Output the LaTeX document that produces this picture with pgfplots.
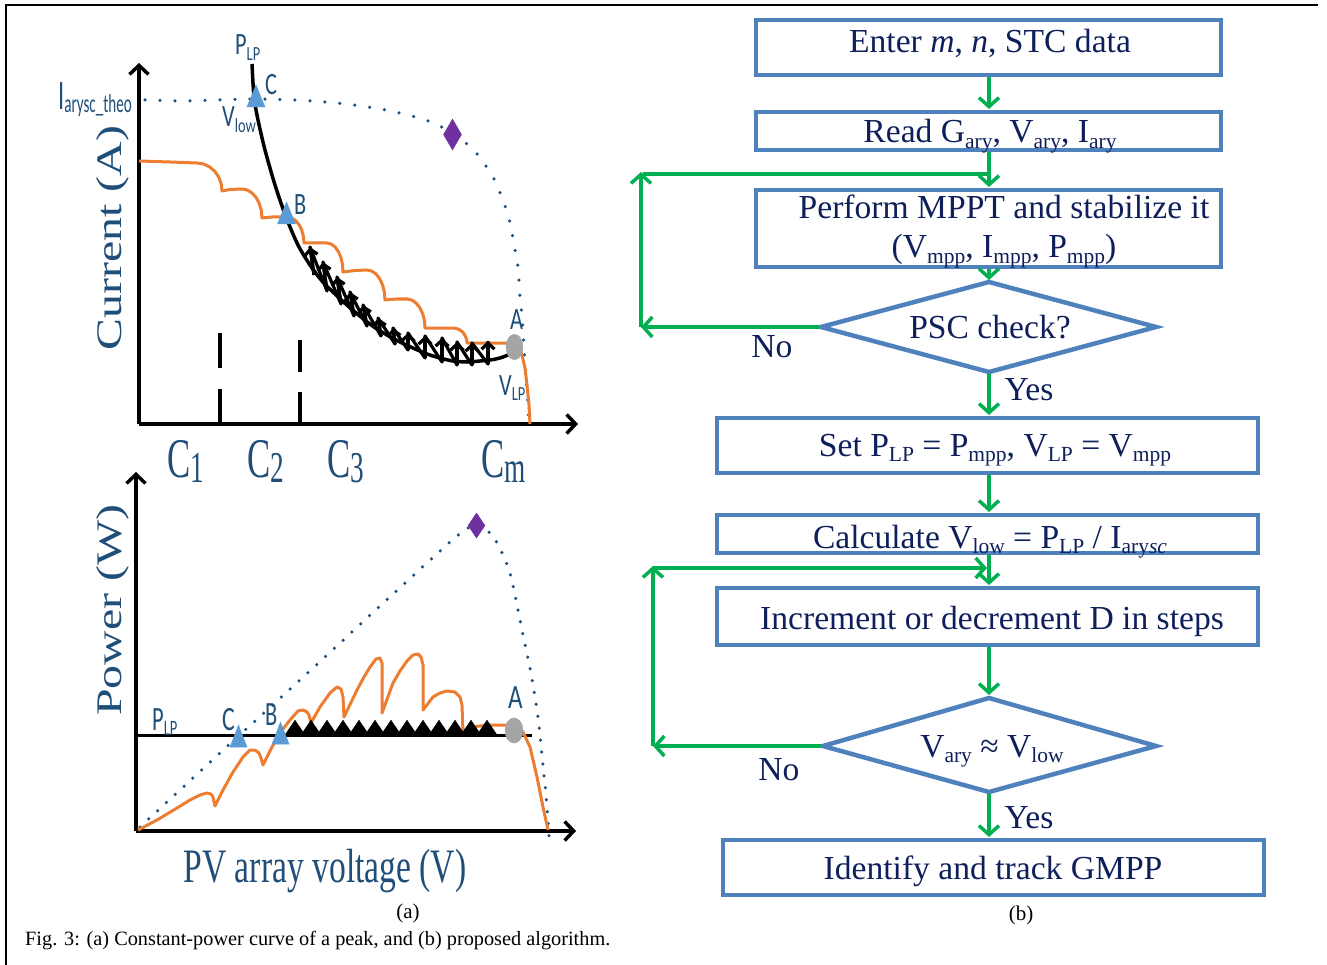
\documentclass[border=0pt]{standalone}
\usepackage{pgfplots}
\pgfplotsset{compat=1.18}
\usepackage{fontspec}
\setmainfont{Liberation Serif}
\newfontfamily\calib{Carlito}
\usetikzlibrary{arrows.meta}
\definecolor{navy}{HTML}{0E1F5B}
\definecolor{dblue}{HTML}{1F4E79}
\definecolor{orng}{HTML}{ED7D31}
\definecolor{lblue}{HTML}{5B9BD5}
\definecolor{gry}{HTML}{A5A5A5}
\definecolor{purp}{HTML}{7030A0}
\definecolor{boxb}{HTML}{4F81BD}
\definecolor{grn}{HTML}{00B050}
\newcommand\fsub[1]{\raisebox{-0.15em}{\fontsize{21.5}{21.5}\selectfont #1}}
\newcommand\slab[5]{\scalebox{#1}[1]{\calib\fontsize{#2}{#2}\selectfont #3\raisebox{-0.17em}{\fontsize{#4}{#4}\selectfont #5}}}
\newcommand\clab[1]{\scalebox{0.62}[1]{\fontsize{56}{56}\selectfont C\raisebox{-0.1em}{\fontsize{44}{44}\selectfont #1}}}
\pgfplotsset{sk/.style={scale only axis, axis lines=left,
  axis line style={line width=3.5pt, -{Straight Barb[length=9pt,width=19pt]}},
  xtick=\empty, ytick=\empty, clip=false, anchor=south west}}
\begin{document}
\begin{tikzpicture}[x=1pt,y=-1pt]
\useasboundingbox (0,0) rectangle (1327,965);
\draw[line width=2pt] (6,965) -- (6,5) -- (1318,5);

% ---------- top: I-V ----------
\begin{axis}[sk, at={(139pt,-424pt)}, width=439pt, height=361pt,
  xmin=139, xmax=578, ymin=-424, ymax=-63]
\addplot[dblue, line width=3.5pt, line cap=round, dash pattern=on 0pt off 15pt, smooth] coordinates {
(145,-100) (183,-101) (219,-100) (251,-99) (294,-100) (326,-102) (354,-105) (386,-110) (419,-118) (440,-126) (461,-140) (472,-148) (483,-162) (492,-175) (499,-190) (504,-203) (509,-218) (512,-233) (515,-250) (518,-267) (520,-297) (522,-317) (524,-347) (526,-377) (528,-407) (529,-424)};
\addplot[orng, line width=3pt, line join=round] coordinates {
(139,-161) (170,-162) (197,-163)
(203.5,-164) (209.5,-166.8) (214.7,-171.2) (218.7,-177) (221.2,-183.7) (222,-191)
(230,-189.5) (242,-189)
(247.2,-190) (252,-192.9) (256.1,-197.5) (259.3,-203.5) (261.3,-210.5) (262,-218)
(272,-217) (287,-217)
(291.4,-217.9) (295.5,-220.5) (299,-224.6) (301.7,-230) (303.4,-236.3) (304,-243)
(315,-243) (327,-243)
(331.1,-244) (335,-246.9) (338.3,-251.5) (340.9,-257.5) (342.5,-264.5) (343,-272)
(355,-270.5) (367,-270)
(371.7,-271) (376,-274) (379.7,-278.8) (382.6,-285) (384.4,-292.2) (385,-300)
(396,-299) (407,-299)
(411.7,-300) (416,-302.9) (419.7,-307.5) (422.6,-313.5) (424.4,-320.5) (425,-328)
(440,-328) (453,-328)
(456.6,-328.5) (460,-330) (462.9,-332.4) (465.1,-335.5) (466.5,-339.1) (467,-343)
(490,-343) (507,-343) (514,-344) (519,-348) (522,-355) (525,-368) (527,-385) (529,-405) (530,-424)};
\addplot[black, line width=3.5pt, smooth] coordinates {
(252,-64) (254,-97) (258,-120) (265,-150) (275,-185) (286,-217) (298,-245) (310,-265) (322,-281) (335,-294) (348,-306) (361,-317) (374,-327) (387,-335) (400,-342) (413,-348) (427,-354) (440,-358) (453,-361) (467,-362) (480,-361) (490,-360) (500,-358) (513,-353)};
\addplot[black, line width=3.2pt, line join=round] coordinates {
(314,-275) (310,-247) (327,-291) (323,-262) (341,-304) (337,-277) (354,-316) (350,-292) (367,-326) (363,-305) (381,-336) (378,-318) (395,-344) (393,-328) (408,-350) (408,-333) (425,-358) (425,-336) (442,-362) (442,-338) (457,-365) (457,-342) (472,-365) (472,-343) (488,-364) (488,-341)};
\addplot[black, line width=3.2pt, -{Straight Barb[length=6pt,width=13pt]}, quiver={u=\thisrow{u}, v=\thisrow{v}}] table {
x y u v
314 -275 -4 28
327 -291 -4 29
341 -304 -4 27
354 -316 -4 24
367 -326 -4 21
381 -336 -3 18
395 -344 -2 16
408 -350 0 17
425 -358 0 22
442 -362 0 24
457 -365 0 23
472 -365 0 22
488 -364 0 23
};
\addplot[black, line width=4pt, dash pattern=on 35pt off 21pt] coordinates {(220,-424) (220,-333)};
\addplot[black, line width=4pt, dash pattern=on 32pt off 20pt] coordinates {(300,-424) (300,-340)};
\addplot[lblue, only marks, mark=triangle*, mark size=10.4pt, mark options={yscale=1.4}] coordinates {(256,-99.6) (286.5,-216.6)};
\addplot[gry, only marks, mark=*, mark size=8.5pt, mark options={yscale=1.5}] coordinates {(514.5,-347)};
\addplot[purp, only marks, mark=diamond*, mark size=15.5pt, mark options={xscale=0.77}] coordinates {(452.5,-134.5)};
\end{axis}

% ---------- bottom: P-V ----------
\begin{axis}[sk, at={(136pt,-831pt)}, width=440pt, height=359pt,
  xmin=136, xmax=576, ymin=-831, ymax=-472]
\addplot[dblue, line width=3.5pt, line cap=round, dash pattern=on 0pt off 12pt, smooth] coordinates {
(140,-827) (220,-753) (300,-680) (380,-606) (440,-551) (457,-536) (468,-528) (478,-525) (488,-531) (496,-541) (503,-555) (509,-570) (514,-590) (519,-615) (524,-640) (529,-663) (533,-685) (537,-710) (540,-735) (543,-765) (546,-795) (548,-820) (549,-837)};
\addplot[black, line width=3pt] coordinates {(136,-735) (532,-735)};
\addplot[orng, line width=3pt, line join=round] coordinates {
(138,-830) (157,-820) (177,-808) (190,-800) (200,-795) (207,-793) (211,-794) (213,-797) (214,-802) (215,-806)
(223,-790) (233,-772) (243,-757) (250,-750) (255,-750) (259,-753) (261,-758) (263,-765)
(272,-747) (280,-733) (290,-720) (298,-711) (303,-710) (307,-712) (309,-715) (311,-723)
(320,-707) (330,-693) (337,-687) (341,-689) (343,-697) (344,-717)
(357,-690) (364,-677) (370,-667) (376,-659) (380,-658) (382,-663) (382,-713)
(393,-683) (400,-671) (407,-661) (413,-655) (418,-654) (421,-657) (423,-665) (423,-710)
(433,-697) (440,-693) (447,-691) (455,-692) (460,-697) (462,-705) (463,-732)
(470,-727) (480,-726) (490,-725) (507,-725) (515,-726) (523,-732) (530,-747) (537,-777) (543,-807) (548,-830)};
\addplot[black, only marks, mark=triangle*, mark size=11.5pt, mark options={yscale=0.85}] coordinates {
(295,-730) (311,-730) (327,-730) (343,-730) (359,-730) (375,-730) (391,-730) (407,-730) (423,-730) (439,-730) (455,-730) (471,-730) (487,-730)};
\addplot[lblue, only marks, mark=triangle*, mark size=9.8pt, mark options={yscale=1.5}] coordinates {(238.5,-739.7) (280.5,-736.7)};
\addplot[gry, only marks, mark=*, mark size=9pt, mark options={yscale=1.4}] coordinates {(514,-730.5)};
\addplot[purp, only marks, mark=diamond*, mark size=12.5pt, mark options={xscale=0.9}] coordinates {(476.5,-525.5)};
\end{axis}

% ---------- left labels ----------
\begin{scope}[every node/.style={inner sep=0pt}]
\node[dblue, rotate=90] at (113,238) {\scalebox{1.33}[1]{\fontsize{36}{36}\selectfont Current (A)}};
\node[dblue, rotate=90] at (113,610) {\scalebox{1.33}[1]{\fontsize{36}{36}\selectfont Power (W)}};
\node[dblue, anchor=base] at (325,882) {\scalebox{0.7}[1]{\fontsize{48}{48}\selectfont PV array voltage (V)}};
\node[dblue, anchor=base west] at (167,477) {\clab{1}};
\node[dblue, anchor=base west] at (247,477) {\clab{2}};
\node[dblue, anchor=base west] at (327,477) {\clab{3}};
\node[dblue, anchor=base west] at (481,477) {\clab{m}};
\node[dblue, anchor=base west] at (58,110) {\scalebox{0.58}[1]{\calib\fontsize{42}{42}\selectfont I\raisebox{-0.07em}{\fontsize{26}{26}\selectfont arysc\_theo}}};
\node[dblue, anchor=base west] at (235,55) {\slab{0.72}{31}{P}{20}{LP}};
\node[dblue, anchor=base west] at (265,95) {\slab{0.72}{31}{C}{20}{}};
\node[dblue, anchor=base west] at (222,127) {\slab{0.72}{31}{V}{20}{low}};
\node[dblue, anchor=base west] at (294,215) {\slab{0.72}{31}{B}{20}{}};
\node[dblue, anchor=base west] at (510,330) {\slab{0.72}{31}{A}{20}{}};
\node[dblue, anchor=base west] at (499,395) {\slab{0.72}{31}{V}{20}{LP}};
\node[dblue, anchor=base west] at (152,730) {\slab{0.66}{34}{P}{22}{LP}};
\node[dblue, anchor=base west] at (222,730) {\slab{0.7}{34}{C}{22}{}};
\node[dblue, anchor=base west] at (265,725) {\slab{0.66}{34}{B}{22}{}};
\node[dblue, anchor=base west] at (508,708) {\slab{0.74}{34}{A}{22}{}};
\node[black] at (408,913) {\fontsize{21}{21}\selectfont (a)};
\node[black, anchor=base west] at (25,945) {\fontsize{20.3}{20.3}\selectfont Fig. 3: (a) Constant-power curve of a peak, and (b) proposed algorithm.};
\end{scope}

% ---------- flowchart ----------
\tikzset{fbox/.style={draw=boxb, line width=4.5pt},
  garrow/.style={draw=grn, line width=3.5pt, -{Straight Barb[length=9pt,width=20pt]}}}
\draw[fbox] (756,20) rectangle (1221,75);
\draw[fbox] (756,112) rectangle (1221,150);
\draw[fbox] (756,190) rectangle (1221,267);
\draw[fbox, line join=miter] (989,282) -- (1156,327) -- (989,372) -- (821,327) -- cycle;
\draw[fbox] (717,418) rectangle (1258,473);
\draw[fbox] (717,515) rectangle (1258,553);
\draw[fbox] (717,588) rectangle (1258,645);
\draw[fbox, line join=miter] (989,698) -- (1156,746) -- (989,792) -- (823,746) -- cycle;
\draw[fbox] (723,840) rectangle (1264,895);

\draw[garrow] (989,77) -- (989,109);
\draw[garrow] (989,152) -- (989,187);
\draw[draw=grn, line width=3.5pt] (643,174) -- (989,174);
\draw[garrow] (819,327) -- (641,327);
\draw[garrow] (641,327) -- (641,172);
\draw[garrow] (989,269) -- (989,280);
\draw[garrow] (989,374) -- (989,415);
\draw[garrow] (989,475) -- (989,512);
\draw[garrow] (989,555) -- (989,585);
\draw[garrow] (821,746) -- (653,746);
\draw[garrow] (653,746) -- (653,566);
\draw[garrow] (653,568) -- (987,568);
\draw[garrow] (989,647) -- (989,695);
\draw[garrow] (989,794) -- (989,837);

\begin{scope}[every node/.style={inner sep=0pt, text=navy, anchor=base, font=\fontsize{33.6}{33.6}\selectfont}]
\node at (990,53) {Enter \textit{m}, \textit{n}, STC data};
\node at (990,143) {Read G\fsub{ary}, V\fsub{ary}, I\fsub{ary}};
\node at (1004,219) {Perform MPPT and stabilize it};
\node at (1004,258) {(V\fsub{mpp}, I\fsub{mpp}, P\fsub{mpp})};
\node at (990,338) {PSC check?};
\node at (772,357) {No};
\node at (1029,400) {Yes};
\node at (995,456) {Set P\fsub{LP} = P\fsub{mpp}, V\fsub{LP} = V\fsub{mpp}};
\node at (990,548) {Calculate V\fsub{low} = P\fsub{LP} / I\fsub{ary\textit{sc}}};
\node at (992,629) {Increment or decrement D in steps};
\node at (992,757) {V\fsub{ary} ≈ V\fsub{low}};
\node at (779,780) {No};
\node at (1029,828) {Yes};
\node at (993,879) {Identify and track GMPP};
\node[text=black] at (1021,920) {\fontsize{21}{21}\selectfont (b)};
\end{scope}
\end{tikzpicture}
\end{document}
